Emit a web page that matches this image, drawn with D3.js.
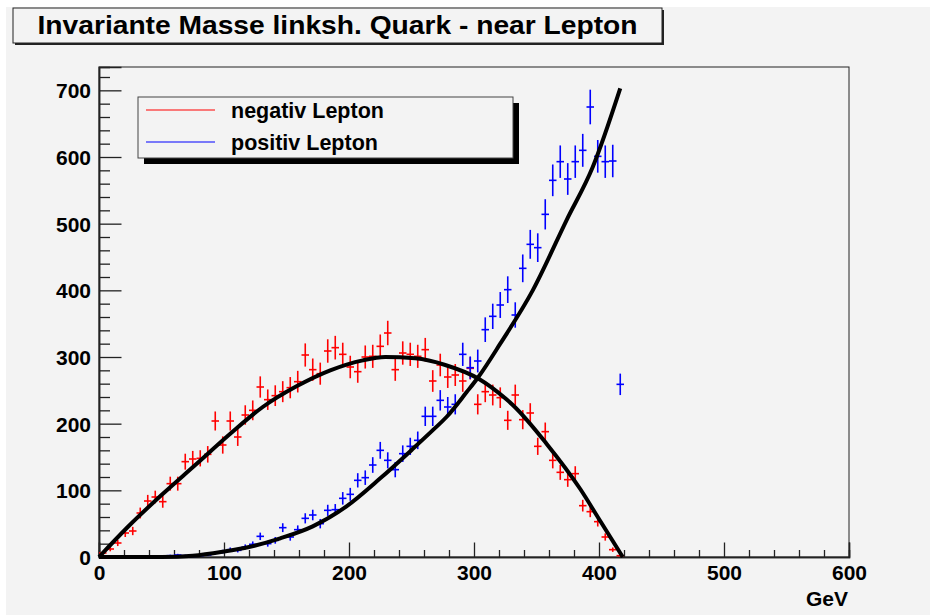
<!DOCTYPE html>
<html>
<head>
<meta charset="utf-8">
<script src="https://cdn.jsdelivr.net/npm/d3@7"></script>
<style>
  html, body { margin: 0; padding: 0; background: #ffffff; }
  svg { display: block; }
  text { font-family: "Liberation Sans", Arial, Helvetica, sans-serif; font-weight: bold; fill: #000; }
</style>
</head>
<body>
<svg id="chart" width="930" height="615"></svg>
<script>
// ---------------- DATA ----------------
const titleText = "Invariante Masse linksh. Quark - near Lepton";
const xLabel = "GeV";
const seriesNames = ["negativ Lepton", "positiv Lepton"];
const seriesColors = ["#ff0000", "#0000ff"];
const xTicks = [0, 100, 200, 300, 400, 500, 600];
const yTicks = [0, 100, 200, 300, 400, 500, 600, 700];
const binHalfWidth = 3;

// bin centres (GeV)
const binCenters = [3, 9, 15, 21, 27, 33, 39, 45, 51, 57, 63, 69, 75, 81, 87, 93, 99, 105, 111, 117,
  123, 129, 135, 141, 147, 153, 159, 165, 171, 177, 183, 189, 195, 201, 207, 213, 219, 225, 231, 237,
  243, 249, 255, 261, 267, 273, 279, 285, 291, 297, 303, 309, 315, 321, 327, 333, 339, 345, 351, 357,
  363, 369, 375, 381, 387, 393, 399, 405, 411, 417];

// negativ Lepton (red) counts
const negValues = [6, 12, 21, 36, 39, 66, 84, 90, 83, 110, 110, 143, 147, 148, 154, 204, 168, 204, 180, 213,
  220, 255, 236, 242, 248, 254, 263, 303, 281, 275, 309, 314, 304, 285, 278, 300, 301, 316, 336, 281,
  306, 304, 301, 311, 264, 288, 270, 273, 264, 283, 229, 248, 243, 239, 205, 243, 206, 216, 166, 188,
  145, 127, 116, 125, 77, 68, 53, 30, 11, 2];

// positiv Lepton (blue) counts
const posValues = [0, 0, 0, 0, 0, 0, 0, 0, 1, 2, 3, 2, 1, 2, 3, 6, 8, 11, 10, 15,
  19, 31, 20, 25, 44, 30, 41, 58, 63, 50, 70, 71, 88, 94, 115, 119, 138, 160, 145, 131,
  155, 166, 175, 211, 211, 235, 225, 229, 304, 284, 294, 341, 361, 378, 401, 363, 433, 469, 464, 514,
  565, 593, 567, 593, 610, 675, 601, 593, 594, 259];

// fit curves: [GeV, value]
const negFit = [[0, 0], [23, 45], [50, 93], [77, 138], [105, 185], [131, 225], [158, 256], [185, 280],
  [211, 295], [229, 300], [253, 298], [277, 288], [304, 267], [325, 238], [331, 228], [358, 170],
  [385, 102], [401, 54], [419, 0]];
const posFit = [[0, 0], [50, 0], [75, 2], [99, 8], [120, 15], [145, 28], [171, 46], [198, 76],
  [225, 118], [251.5, 163], [267.5, 191], [278, 210], [294, 247], [303.5, 270], [321, 320],
  [347, 400], [374, 505], [395, 585], [417, 703]];

// ---------------- LAYOUT ----------------
const svg = d3.select("#chart");
const bg = "#f3f3f3";
const frame = { left: 99, right: 849, top: 67, bottom: 557 };

svg.append("rect").attr("x", 6).attr("y", 7).attr("width", 924).attr("height", 608).attr("fill", bg);

const x = d3.scaleLinear().domain([0, 600]).range([frame.left, frame.right]);
const y = d3.scaleLinear().domain([0, 735]).range([frame.bottom, frame.top]);

// frame
svg.append("rect")
  .attr("x", frame.left).attr("y", frame.top)
  .attr("width", frame.right - frame.left).attr("height", frame.bottom - frame.top)
  .attr("fill", bg).attr("stroke", "#222").attr("stroke-width", 1);

// axes
const xMinor = d3.range(0, 601, 20).filter(v => v % 100 !== 0);
const yMinor = d3.range(0, 735, 20).filter(v => v % 100 !== 0);

svg.append("g").attr("transform", `translate(0,${frame.bottom})`)
  .call(d3.axisBottom(x).tickValues(xTicks).tickSize(-14.5).tickPadding(8).tickFormat(d3.format("d")));
svg.append("g").attr("transform", `translate(0,${frame.bottom})`)
  .call(d3.axisBottom(x).tickValues(xMinor).tickSize(-7).tickFormat(""));
const gy = svg.append("g").attr("transform", `translate(${frame.left},0)`)
  .call(d3.axisLeft(y).tickValues(yTicks).tickSize(-22.5).tickPadding(8).tickFormat(d3.format("d")));
svg.append("g").attr("transform", `translate(${frame.left},0)`)
  .call(d3.axisLeft(y).tickValues(yMinor).tickSize(-11).tickFormat(""));

svg.selectAll(".domain").attr("stroke", "#222").attr("stroke-width", 1.5);
svg.selectAll(".tick line").attr("stroke", "#222").attr("stroke-width", 1.3);
svg.selectAll(".tick text").attr("font-size", 21).attr("font-weight", "bold")
  .attr("font-family", "'Liberation Sans', Arial, sans-serif").attr("fill", "#000");
gy.selectAll(".tick text").attr("dy", "0.36em");

svg.append("text").attr("x", 848).attr("y", 606).attr("text-anchor", "end")
  .attr("font-size", 21).text(xLabel);

// error-bar markers
function drawSeries(values, color) {
  const pts = binCenters.map((c, i) => ({ c, v: values[i] })).filter(d => d.v > 0);
  const g = svg.append("g").attr("stroke", color).attr("stroke-width", 1.6).attr("fill", "none");
  g.selectAll("line.h").data(pts).join("line").attr("class", "h")
    .attr("x1", d => x(d.c - binHalfWidth)).attr("x2", d => x(d.c + binHalfWidth))
    .attr("y1", d => y(d.v)).attr("y2", d => y(d.v));
  g.selectAll("line.v").data(pts).join("line").attr("class", "v")
    .attr("x1", d => x(d.c)).attr("x2", d => x(d.c))
    .attr("y1", d => y(Math.max(0, d.v - Math.sqrt(d.v)))).attr("y2", d => y(d.v + Math.sqrt(d.v)));
}
drawSeries(negValues, seriesColors[0]);
drawSeries(posValues, seriesColors[1]);

// fit curves
const line = d3.line().x(d => x(d[0])).y(d => y(d[1])).curve(d3.curveMonotoneX);
[negFit, posFit].forEach(f => {
  svg.append("path").attr("d", line(f)).attr("fill", "none")
    .attr("stroke", "#000").attr("stroke-width", 4).attr("stroke-linejoin", "round");
});

// title box
svg.append("rect").attr("x", 15).attr("y", 10).attr("width", 649).attr("height", 35).attr("fill", "#222");
svg.append("rect").attr("x", 13).attr("y", 8).attr("width", 649).attr("height", 35)
  .attr("fill", bg).attr("stroke", "#222").attr("stroke-width", 1);
svg.append("text").attr("x", 337.5).attr("y", 34).attr("text-anchor", "middle")
  .attr("font-size", 25).attr("textLength", 600).attr("lengthAdjust", "spacingAndGlyphs")
  .text(titleText);

// legend
const lg = { x: 138, y: 97, w: 375, h: 61 };
svg.append("rect").attr("x", lg.x + 6).attr("y", lg.y + 6).attr("width", lg.w).attr("height", lg.h).attr("fill", "#000");
svg.append("rect").attr("x", lg.x).attr("y", lg.y).attr("width", lg.w).attr("height", lg.h)
  .attr("fill", bg).attr("stroke", "#444").attr("stroke-width", 1);
const legendY = [110, 142];
seriesNames.forEach((name, i) => {
  svg.append("line").attr("x1", 146).attr("x2", 215).attr("y1", legendY[i]).attr("y2", legendY[i])
    .attr("stroke", seriesColors[i]).attr("stroke-width", 1.2);
  svg.append("text").attr("x", 231).attr("y", legendY[i]).attr("dy", "0.36em")
    .attr("font-size", 21.5).text(name);
});
</script>
</body>
</html>
